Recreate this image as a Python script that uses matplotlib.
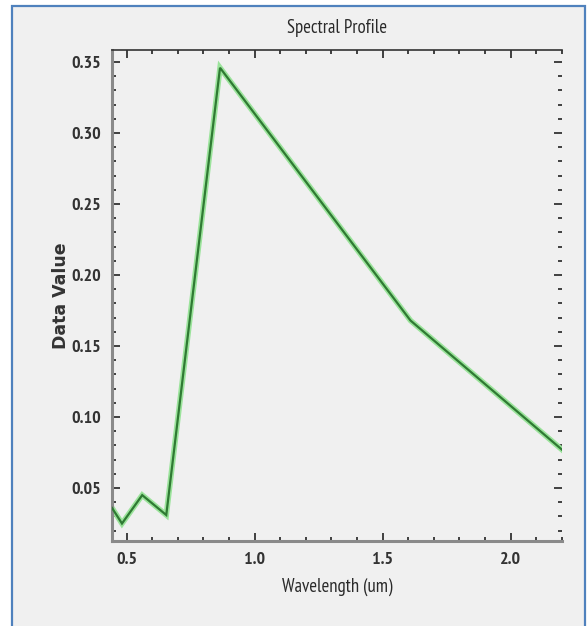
import matplotlib
matplotlib.use("Agg")
import matplotlib.pyplot as plt
from matplotlib.ticker import MultipleLocator, FormatStrFormatter
from matplotlib.patches import Rectangle

wavelength = [0.443, 0.482, 0.561, 0.655, 0.865, 1.609, 2.201]
data_value = [0.036, 0.025, 0.045, 0.031, 0.346, 0.168, 0.077]
x_ticks = [0.5, 1.0, 1.5, 2.0]
y_ticks = [0.05, 0.10, 0.15, 0.20, 0.25, 0.30, 0.35]

narrow = ["PT Sans Narrow", "DejaVu Sans"]

fig = plt.figure(figsize=(5.87, 6.26), dpi=100)
fig.patch.set_facecolor("white")
fig.patches.append(Rectangle((0.0204, -0.02), 0.9762, 1.0104, transform=fig.transFigure,
                             facecolor="#f0f0f0", edgecolor="#4f81bd", linewidth=1.6, zorder=-10))

ax = fig.add_axes([0.1908, 0.1358, 0.7666, 0.7843])
ax.set_zorder(5)
ax.set_facecolor("#f0f0f0")

ax.plot(wavelength, data_value, color="#9be39b", linewidth=4.0, solid_joinstyle="miter", zorder=2)
ax.plot(wavelength, data_value, color="#2f7a33", linewidth=1.6, solid_joinstyle="miter", zorder=3)

ax.set_xlim(0.443, 2.201)
ax.set_ylim(0.0127, 0.3585)
ax.set_xticks(x_ticks)
ax.set_yticks(y_ticks)
ax.xaxis.set_minor_locator(MultipleLocator(0.1))
ax.yaxis.set_minor_locator(MultipleLocator(0.01))
ax.xaxis.set_major_formatter(FormatStrFormatter("%.1f"))
ax.yaxis.set_major_formatter(FormatStrFormatter("%.2f"))

ax.tick_params(which="both", direction="in", top=True, right=True, colors="#222222")
ax.tick_params(which="major", length=6, width=1.2, pad=8, labelsize=13, labelcolor="#333333")
ax.tick_params(which="minor", length=3, width=1.2)
for lab in ax.get_xticklabels() + ax.get_yticklabels():
    lab.set_family(narrow)
    lab.set_fontweight("bold")

for side in ["left", "bottom"]:
    ax.spines[side].set_color("#8a8a8a")
    ax.spines[side].set_linewidth(2.2)
ax.spines["top"].set_color("#333333")
ax.spines["top"].set_linewidth(1.2)
ax.spines["right"].set_visible(False)

ax.set_title("Spectral Profile", family=narrow, fontsize=13.5, color="#2a2a2a", pad=12)
ax.set_xlabel("Wavelength (um)", family=narrow, fontsize=13.5, color="#2a2a2a", labelpad=7)
ax.set_ylabel("Data Value", family="DejaVu Sans", fontweight="bold", fontsize=12.5,
              color="#333333", labelpad=1)

fig.savefig("out.png", dpi=100, facecolor=fig.get_facecolor())
